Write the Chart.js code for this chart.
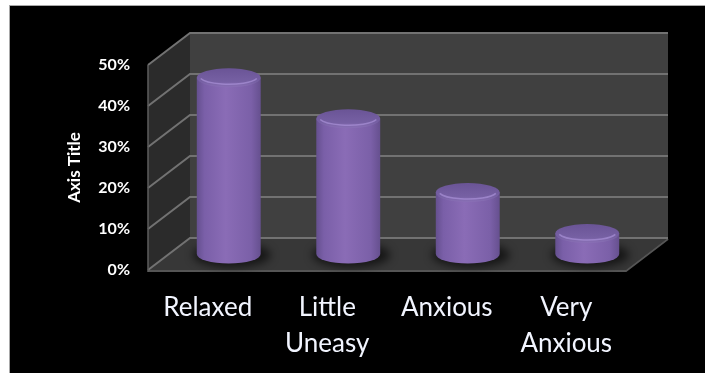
<!DOCTYPE html>
<html>
<head>
<meta charset="utf-8">
<script src="https://cdn.jsdelivr.net/npm/chart.js@4.4.0/dist/chart.umd.min.js"></script>
<style>
  html, body { margin: 0; padding: 0; background: #fff; }
  canvas { display: block; }
</style>
</head>
<body>
<canvas id="anxietyChart" width="705" height="373"></canvas>
<script>
const categories = [['Relaxed'], ['Little', 'Uneasy'], ['Anxious'], ['Very', 'Anxious']];
const responses = [43, 33, 15, 5];
const yTicks = [0, 10, 20, 30, 40, 50];

// offset of the back wall from the front plane of the 3D box
const DEPTH_X = 42;
const DEPTH_Y = -32;

// white page with the black chart panel
const panel = {
    id: 'panel',
    beforeDraw(chart) {
        const ctx = chart.ctx;
        ctx.save();
        ctx.fillStyle = '#ffffff';
        ctx.fillRect(0, 0, chart.width, chart.height);
        ctx.fillStyle = '#a8a8a8';
        ctx.fillRect(9, 5, chart.width - 9, chart.height - 5);
        ctx.fillStyle = '#000000';
        ctx.fillRect(10, 6, chart.width - 10, chart.height - 6);
        ctx.restore();
    }
};

// walls, floor and gridlines of the 3D box
const box3d = {
    id: 'box3d',
    beforeDatasetsDraw(chart) {
        const { ctx, scales: { x, y } } = chart;
        const l = x.left, r = x.right;
        const y0 = y.getPixelForValue(0);
        const yTop = y.getPixelForValue(yTicks[yTicks.length - 1]);
        ctx.save();

        // back wall
        ctx.fillStyle = '#404040';
        ctx.fillRect(l + DEPTH_X, yTop + DEPTH_Y, r - l, y0 - yTop);

        // side wall
        ctx.fillStyle = '#2b2b2b';
        ctx.beginPath();
        ctx.moveTo(l, yTop);
        ctx.lineTo(l + DEPTH_X, yTop + DEPTH_Y);
        ctx.lineTo(l + DEPTH_X, y0 + DEPTH_Y);
        ctx.lineTo(l, y0);
        ctx.closePath();
        ctx.fill();

        // floor
        ctx.fillStyle = '#373737';
        ctx.beginPath();
        ctx.moveTo(l, y0);
        ctx.lineTo(l + DEPTH_X, y0 + DEPTH_Y);
        ctx.lineTo(r + DEPTH_X, y0 + DEPTH_Y);
        ctx.lineTo(r, y0);
        ctx.closePath();
        ctx.fill();

        // front edge of the floor
        ctx.strokeStyle = '#555555';
        ctx.lineWidth = 2;
        ctx.beginPath();
        ctx.moveTo(l, y0 + 1);
        ctx.lineTo(r, y0 + 1);
        ctx.lineTo(r + DEPTH_X, y0 + DEPTH_Y + 1);
        ctx.stroke();

        // gridlines across side wall and back wall
        ctx.strokeStyle = '#727272';
        ctx.lineWidth = 2;
        yTicks.forEach(v => {
            const py = y.getPixelForValue(v);
            ctx.beginPath();
            ctx.moveTo(l, py);
            ctx.lineTo(l + DEPTH_X, py + DEPTH_Y);
            ctx.lineTo(r + DEPTH_X, py + DEPTH_Y);
            ctx.stroke();
        });

        // front edge of the side wall
        ctx.strokeStyle = '#5e5e5e';
        ctx.lineWidth = 1.5;
        ctx.beginPath();
        ctx.moveTo(l, yTop);
        ctx.lineTo(l, y0 + 2);
        ctx.stroke();

        ctx.restore();
    }
};

// each bar drawn as a cylinder standing halfway into the box
const cylinders = {
    id: 'cylinders',
    afterDatasetsDraw(chart) {
        const ctx = chart.ctx;
        const meta = chart.getDatasetMeta(0);
        meta.data.forEach(bar => {
            const cx = bar.x + DEPTH_X / 2;
            const top = bar.y + DEPTH_Y / 2;
            const base = bar.base + DEPTH_Y / 2;
            const rx = bar.width / 2;
            const ry = 9.5;

            ctx.save();

            // soft shadow on the floor
            ctx.filter = 'blur(4px)';
            ctx.fillStyle = 'rgba(0,0,0,0.6)';
            ctx.beginPath();
            ctx.ellipse(cx + 3, base + 1, rx + 7, ry + 3, 0, 0, Math.PI * 2);
            ctx.fill();
            ctx.filter = 'none';

            // body
            const g = ctx.createLinearGradient(cx - rx, 0, cx + rx, 0);
            g.addColorStop(0, '#65508f');
            g.addColorStop(0.12, '#7a5fa8');
            g.addColorStop(0.45, '#8a6cb6');
            g.addColorStop(0.85, '#7b60a8');
            g.addColorStop(1, '#66508f');
            ctx.fillStyle = g;
            ctx.beginPath();
            ctx.moveTo(cx - rx, top);
            ctx.lineTo(cx - rx, base);
            ctx.ellipse(cx, base, rx, ry, 0, Math.PI, 0, true);
            ctx.lineTo(cx + rx, top);
            ctx.closePath();
            ctx.fill();

            // top cap
            const t = ctx.createLinearGradient(0, top - ry, 0, top + ry);
            t.addColorStop(0, '#6a5496');
            t.addColorStop(0.7, '#7660a3');
            t.addColorStop(1, '#8a70b6');
            ctx.fillStyle = t;
            ctx.beginPath();
            ctx.ellipse(cx, top, rx, ry, 0, 0, Math.PI * 2);
            ctx.fill();

            // highlight along the front rim of the cap
            ctx.strokeStyle = 'rgba(170,145,215,0.7)';
            ctx.lineWidth = 1.5;
            ctx.beginPath();
            ctx.ellipse(cx, top - 1, rx - 3, ry - 2, 0, 0.25, Math.PI - 0.25);
            ctx.stroke();

            ctx.restore();
        });
    }
};

const ctx = document.getElementById('anxietyChart').getContext('2d');

new Chart(ctx, {
    type: 'bar',
    data: {
        labels: categories,
        datasets: [{
            data: responses,
            backgroundColor: 'rgba(0,0,0,0)',
            borderWidth: 0,
            barPercentage: 0.535,
            categoryPercentage: 1
        }]
    },
    options: {
        responsive: false,
        animation: false,
        devicePixelRatio: 1,
        layout: {
            padding: { left: 58, right: 79, top: 65, bottom: 0 }
        },
        plugins: {
            legend: { display: false },
            tooltip: { enabled: false }
        },
        scales: {
            x: {
                grid: { display: false, drawTicks: false },
                border: { display: false },
                ticks: {
                    color: '#f2f5ff',
                    font: { family: 'Lato', size: 26, lineHeight: 1.4 },
                    padding: 19,
                    maxRotation: 0,
                    autoSkip: false
                },
                afterFit(scale) {
                    scale.height = 103;
                }
            },
            y: {
                min: 0,
                max: 50,
                grid: { display: false, drawTicks: false },
                border: { display: false },
                afterBuildTicks(scale) {
                    scale.ticks = yTicks.map(v => ({ value: v }));
                },
                ticks: {
                    color: '#ffffff',
                    font: { family: 'Lato', size: 16, weight: 'bold' },
                    padding: 18,
                    callback: v => v + '%'
                },
                title: {
                    display: true,
                    text: 'Axis Title',
                    color: '#ffffff',
                    font: { family: 'Lato', size: 17, weight: 'bold' },
                    padding: { top: 6, bottom: 0 }
                },
                afterFit(scale) {
                    scale.width = 90;
                }
            }
        }
    },
    plugins: [panel, box3d, cylinders]
});
</script>
</body>
</html>
